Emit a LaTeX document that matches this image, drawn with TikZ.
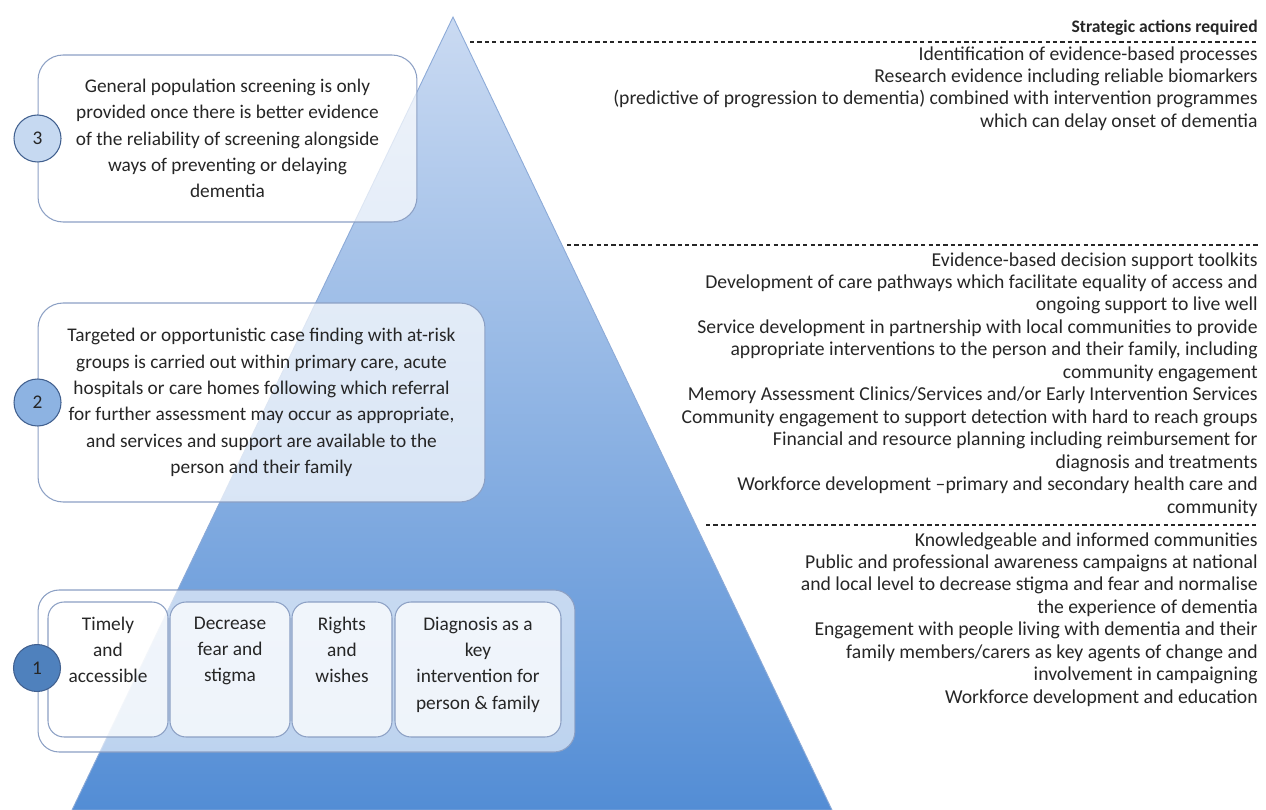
\documentclass[tikz,border=0pt]{standalone}
\usepackage{fontspec}
\setmainfont{Carlito}
\usetikzlibrary{positioning}

\definecolor{pyrtop}{RGB}{202,218,242}
\definecolor{pyrbot}{RGB}{83,141,213}
\definecolor{pyredge}{RGB}{140,170,215}
\definecolor{boxline}{RGB}{140,160,196}
\definecolor{numline}{RGB}{65,96,143}
\definecolor{numlow}{RGB}{79,129,189}
\definecolor{nummid}{RGB}{141,179,226}
\definecolor{numhigh}{RGB}{198,217,241}
\definecolor{txt}{RGB}{38,38,38}

\newcommand{\boxfont}{\fontsize{11}{15}\selectfont}
\newcommand{\actfont}{\fontsize{11.2}{12.8}\selectfont}

\tikzset{
  lvlbox/.style={draw=boxline, line width=0.6pt, rounded corners=0.5cm,
    fill=white, fill opacity=0.7, text opacity=1, align=center, text=txt, font=\boxfont},
  outerbox/.style={draw=boxline, line width=0.6pt, rounded corners=0.42cm,
    fill=white, fill opacity=0.6},
  itembox/.style={draw=boxline, line width=0.6pt, rounded corners=0.32cm,
    fill=white, fill opacity=0.75, minimum height=2.7cm},
  itemtext/.style={align=center, text=txt, inner sep=0pt, font=\boxfont},
  lvlnum/.style={circle, draw=numline, line width=0.6pt, minimum size=0.94cm,
    inner sep=0pt, text=txt, font=\boxfont},
  actions/.style={anchor=north east, align=right, inner sep=0pt, text=txt, font=\actfont},
  sepline/.style={draw=txt, line width=0.6pt, dash pattern=on 2.4pt off 1.8pt}
}

\begin{document}
\begin{tikzpicture}[x=0.02cm, y=-0.02cm]
\useasboundingbox (0,0) rectangle (1266,810);

% pyramid
\shade[top color=pyrtop, bottom color=pyrbot, draw=pyredge, line width=0.5pt]
  (453,17) -- (832,810) -- (72,810) -- cycle;

% level 3
\node[lvlbox, minimum width=7.58cm, minimum height=3.34cm] (lvl3) at (227.5,138.5)
  {General population screening is only\\
   provided once there is better evidence\\
   of the reliability of screening alongside\\
   ways of preventing or delaying\\
   dementia};
\node[lvlnum, fill=numhigh] (num3) at (lvl3.west) {3};

% level 2
\node[lvlbox, minimum width=8.94cm, minimum height=3.98cm] (lvl2) at (261.5,402.5)
  {Targeted or opportunistic case finding with at-risk\\
   groups is carried out within primary care, acute\\
   hospitals or care homes following which referral\\
   for further assessment may occur as appropriate,\\
   and services and support are available to the\\
   person and their family};
\node[lvlnum, fill=nummid] (num2) at (lvl2.west) {2};

% level 1
\node[outerbox, minimum width=10.74cm, minimum height=3.24cm] (lvl1) at (306.5,671) {};
\node[itembox, minimum width=2.4cm] (itm1) at (108,669.5) {};
\node[itembox, minimum width=2.4cm] (itm2) at (230,669.5) {};
\node[itembox, minimum width=2.0cm] (itm3) at (342,669.5) {};
\node[itembox, minimum width=3.32cm] (itm4) at (478,669.5) {};
\node[itemtext, below=0.3cm of itm1.north] (txt1) {Timely\\ and\\ accessible};
\node[itemtext, below=0.3cm of itm2.north] (txt2) {Decrease\\ fear and\\ stigma};
\node[itemtext, below=0.3cm of itm3.north] (txt3) {Rights\\ and\\ wishes};
\node[itemtext, below=0.3cm of itm4.north] (txt4) {Diagnosis as a\\ key\\ intervention for\\ person \& family};
\node[lvlnum, fill=numlow] (num1) at (37,668) {1};

% strategic actions
\node[actions, font=\fontsize{10}{12}\selectfont\bfseries] (head) at (1258,20) {Strategic actions required};
\draw[sepline] (470,42) -- (1258,42);
\node[actions] (act3) at (1258,46)
  {Identification of evidence-based processes\\
   Research evidence including reliable biomarkers\\
   (predictive of progression to dementia) combined with intervention programmes\\
   which can delay onset of dementia};

\draw[sepline] (567,245) -- (1258,245);
\node[actions] (act2) at (1258,252)
  {Evidence-based decision support toolkits\\
   Development of care pathways which facilitate equality of access and\\
   ongoing support to live well\\
   Service development in partnership with local communities to provide\\
   appropriate interventions to the person and their family, including\\
   community engagement\\
   Memory Assessment Clinics/Services and/or Early Intervention Services\\
   Community engagement to support detection with hard to reach groups\\
   Financial and resource planning including reimbursement for\\
   diagnosis and treatments\\
   Workforce development --primary and secondary health care and\\
   community};

\draw[sepline] (706,525) -- (1258,525);
\node[actions] (act1) at (1258,532)
  {Knowledgeable and informed communities\\
   Public and professional awareness campaigns at national\\
   and local level to decrease stigma and fear and normalise\\
   the experience of dementia\\
   Engagement with people living with dementia and their\\
   family members/carers as key agents of change and\\
   involvement in campaigning\\
   Workforce development and education};
\end{tikzpicture}
\end{document}
